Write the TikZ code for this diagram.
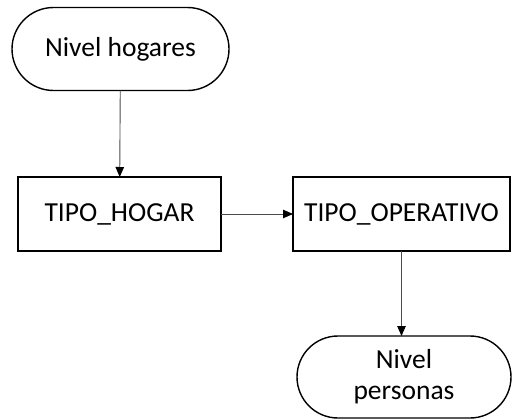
\documentclass[tikz,border=0pt]{standalone}
\usepackage{fontspec}
\setmainfont{Carlito}
\usetikzlibrary{positioning}
\usetikzlibrary{shapes.misc,arrows.meta}

\begin{document}
\begin{tikzpicture}[x=1pt,y=-1pt,
        term/.style={draw,rounded rectangle,line width=1.4pt,minimum width=217pt,
            minimum height=83pt,inner sep=0pt,outer sep=0pt,align=center},
        box/.style={draw,rectangle,line width=1.8pt,minimum height=74pt,
            inner sep=0pt,outer sep=0pt,align=center},
        conn/.style={draw=black!70,line width=0.9pt,
            -{Triangle[length=10pt,width=8.5pt,black]}},
        font=\fontsize{27.5}{31}\selectfont]
        \useasboundingbox (0,0) rectangle (512,420);
        \node (hog) [term] at (120.5,49) {Nivel hogares};
        \node (thog) [box,minimum width=203pt] at (119.5,214) {TIPO\_HOGAR};
        \node (toper) [box,minimum width=217pt] at (401.5,214) {TIPO\_OPERATIVO};
        \node (per) [term,minimum width=214pt,minimum height=82pt] at (404,377)
            {Nivel\\personas};
        % connectors
        \draw [conn] (hog) -- (thog);
        \draw [conn] (thog) -- (toper);
        \draw [conn] (toper.south) -- (toper.south |- per.north);
    \end{tikzpicture}
\end{document}
